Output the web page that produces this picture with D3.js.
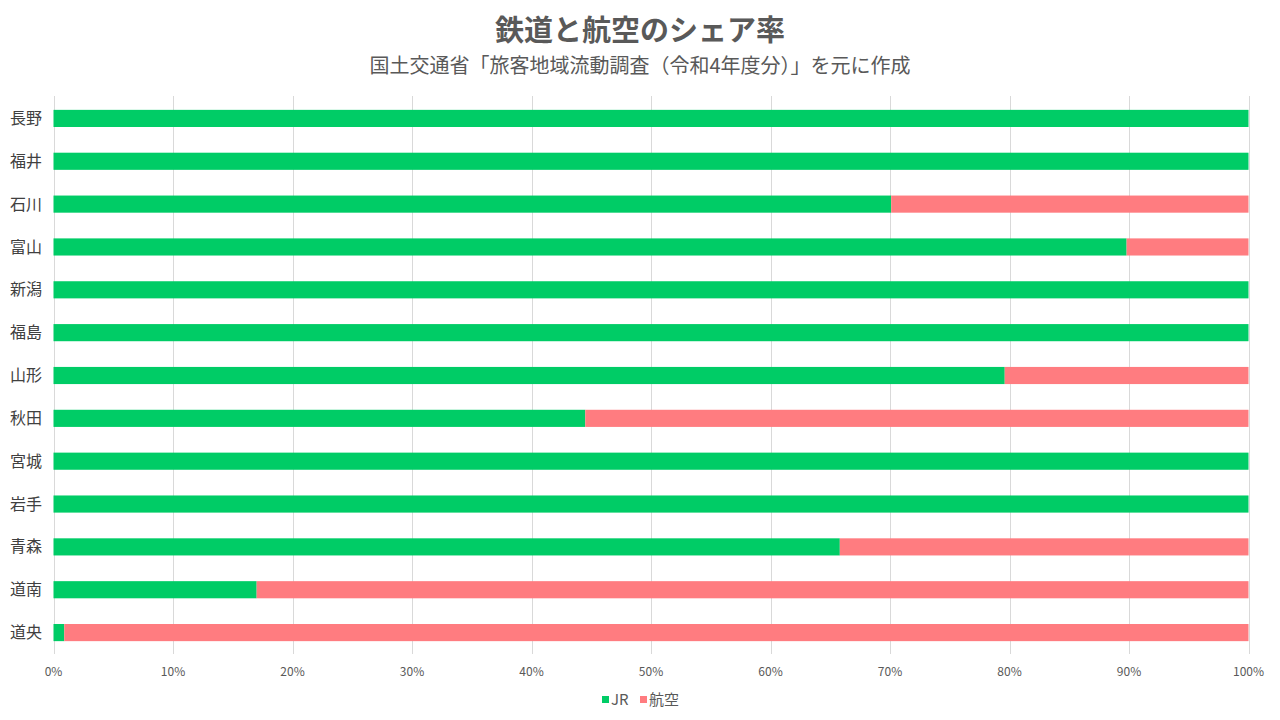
<!DOCTYPE html>
<html lang="ja">
<head>
    <meta charset="UTF-8" />
    <title>鉄道と航空のシェア率</title>
    <script src="https://d3js.org/d3.v7.min.js"></script>
    <style>
        body {
            margin: 0;
            background-color: #ffffff;
            font-family: 'Noto Sans CJK JP', 'Noto Sans', sans-serif;
        }
        .title {
            font-size: 29px;
            font-weight: bold;
            fill: #595959;
        }
        .subtitle {
            font-size: 20px;
            fill: #595959;
        }
        .cat-label {
            font-size: 16px;
            fill: #404040;
        }
        .tick-label {
            font-size: 12px;
            fill: #595959;
        }
        .legend-label {
            font-size: 15px;
            fill: #595959;
        }
    </style>
</head>
<body>
    <svg id="chart"></svg>

    <script>
        // Data - JR share in %, air share is the rest
        const regions = ["長野", "福井", "石川", "富山", "新潟", "福島", "山形", "秋田", "宮城", "岩手", "青森", "道南", "道央"];
        const jrShare = [100, 100, 70.1, 89.8, 100, 100, 79.6, 44.5, 100, 100, 65.8, 17.0, 0.9];
        const airShare = [0, 0, 29.9, 10.2, 0, 0, 20.4, 55.5, 0, 0, 34.2, 83.0, 99.1];
        const seriesNames = ["JR", "航空"];
        const tickValues = [0, 10, 20, 30, 40, 50, 60, 70, 80, 90, 100];

        const colors = { "JR": "#00CC66", "航空": "#FF7C80" };

        const W = 1280, H = 720;
        const plot = { left: 53.5, right: 1248.5, top: 97, bottom: 654 };

        const svg = d3.select("#chart")
            .attr("width", W)
            .attr("height", H);

        // Titles
        svg.append("text")
            .attr("class", "title")
            .attr("x", W / 2)
            .attr("y", 41)
            .attr("text-anchor", "middle")
            .text("鉄道と航空のシェア率");

        svg.append("text")
            .attr("class", "subtitle")
            .attr("x", W / 2)
            .attr("y", 73)
            .attr("text-anchor", "middle")
            .text("国土交通省「旅客地域流動調査（令和4年度分）」を元に作成");

        // Scales
        const x = d3.scaleLinear()
            .domain([0, 100])
            .range([plot.left, plot.right]);

        const y = d3.scaleBand()
            .domain(regions)
            .range([plot.top, plot.bottom])
            .paddingInner(0.6)
            .paddingOuter(0.3);

        // Gridlines
        svg.append("g")
            .selectAll("line")
            .data(tickValues)
            .enter()
            .append("line")
            .attr("x1", d => Math.round(x(d)) + 0.5)
            .attr("x2", d => Math.round(x(d)) + 0.5)
            .attr("y1", plot.top - 1)
            .attr("y2", plot.bottom)
            .attr("stroke", "#d9d9d9")
            .attr("stroke-width", 1);

        // Stacked data
        const rows = regions.map((r, i) => ({ region: r, "JR": jrShare[i], "航空": airShare[i] }));
        const stacked = d3.stack().keys(seriesNames)(rows);

        svg.append("g")
            .selectAll("g")
            .data(stacked)
            .enter()
            .append("g")
            .attr("fill", d => colors[d.key])
            .selectAll("rect")
            .data(d => d)
            .enter()
            .append("rect")
            .attr("x", d => x(d[0]))
            .attr("width", d => x(d[1]) - x(d[0]))
            .attr("y", d => y(d.data.region))
            .attr("height", y.bandwidth());

        // Category labels
        svg.append("g")
            .selectAll("text")
            .data(regions)
            .enter()
            .append("text")
            .attr("class", "cat-label")
            .attr("x", 42)
            .attr("y", d => y(d) + y.bandwidth() / 2)
            .attr("dy", "0.35em")
            .attr("text-anchor", "end")
            .text(d => d);

        // X axis tick labels
        svg.append("g")
            .selectAll("text")
            .data(tickValues)
            .enter()
            .append("text")
            .attr("class", "tick-label")
            .attr("x", d => x(d))
            .attr("y", 676)
            .attr("text-anchor", "middle")
            .text(d => d + "%");

        // Legend
        const legend = svg.append("g").attr("transform", "translate(602,700)");
        const legendItems = [
            { key: "JR", offset: 0 },
            { key: "航空", offset: 38 }
        ];
        legendItems.forEach(item => {
            const g = legend.append("g").attr("transform", `translate(${item.offset},0)`);
            g.append("rect")
                .attr("x", 0)
                .attr("y", -4)
                .attr("width", 7)
                .attr("height", 7)
                .attr("fill", colors[item.key]);
            g.append("text")
                .attr("class", "legend-label")
                .attr("x", 9)
                .attr("y", 0)
                .attr("dy", "0.35em")
                .text(item.key);
        });
    </script>
</body>
</html>
